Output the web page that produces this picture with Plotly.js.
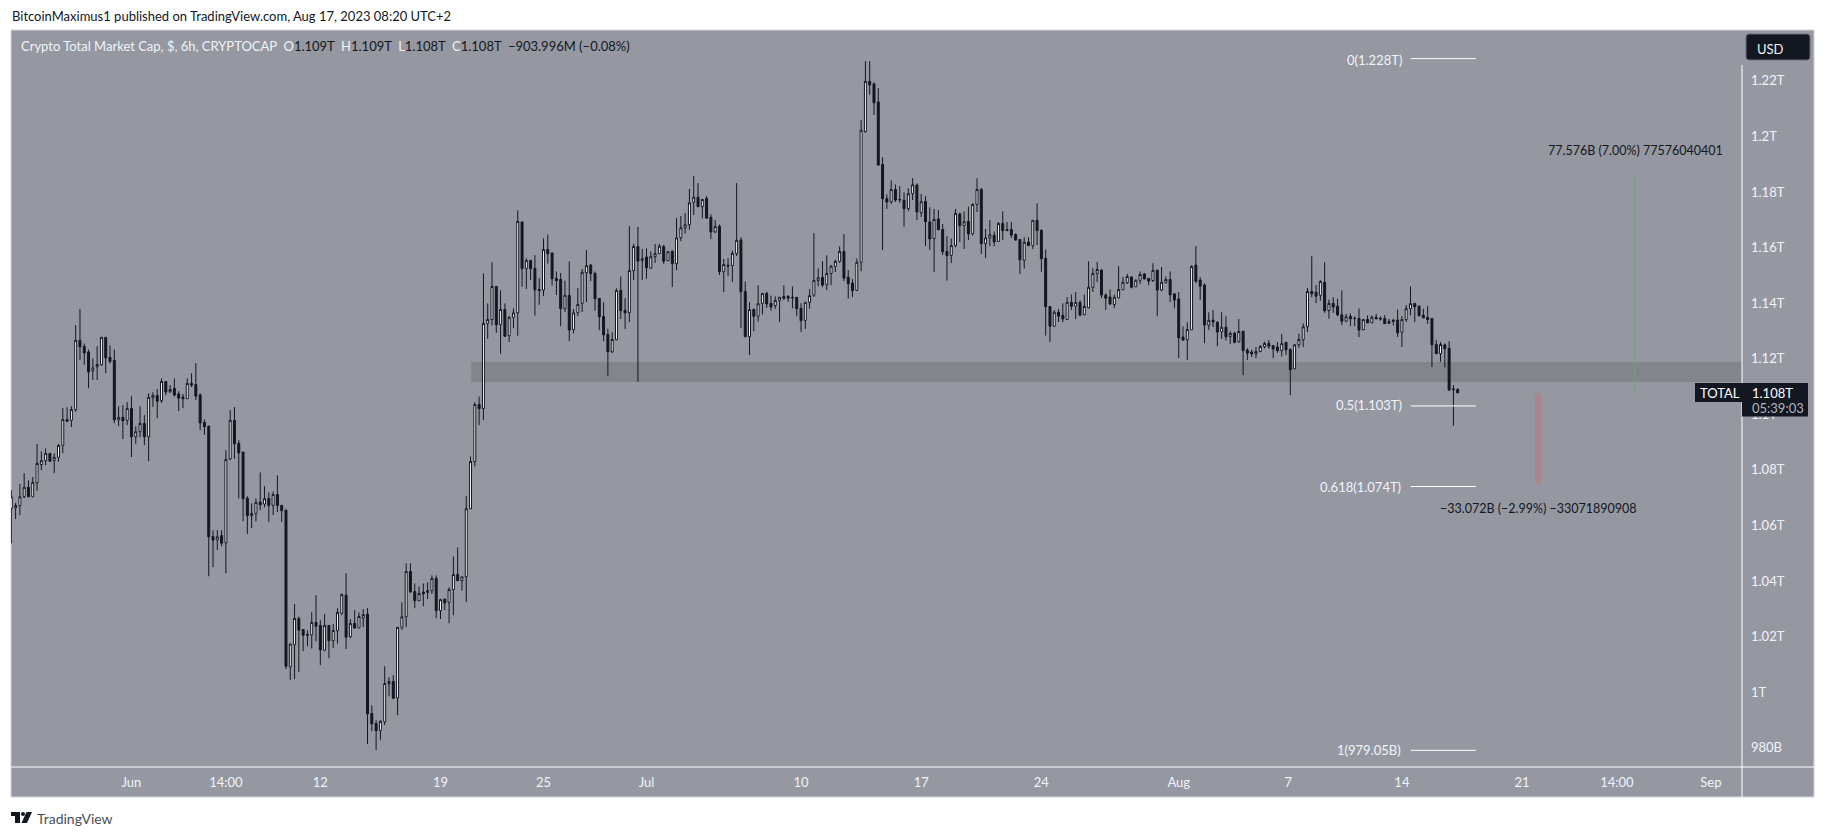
<!DOCTYPE html>
<html><head><meta charset="utf-8">
<script src="https://cdn.plot.ly/plotly-3.0.1.min.js"></script>
<style>html,body{margin:0;padding:0;background:#fff}#c{width:1825px;height:837px}</style>
</head><body><div id="c"></div>
<script>
// Values are in billions of USD, one candle every 6 hours, first candle 2023-05-25 00:00.
const firstCandle = Date.UTC(2023,4,25);
const opens = [
1066.1,1066.3,1067.1,1070.3,1073.7,1070.3,1075.3,1081.9,1083.3,1085.9,
1083.3,1084.5,1088.8,1098.1,1097.8,1101.7,1126.6,1124.4,1122.4,1115.7,
1117.1,1117.8,1127.7,1120.5,1119.4,1098.0,1098.9,1097.8,1102.1,1091.9,
1093.7,1096.7,1091.9,1105.9,1106.8,1104.9,1111.8,1108.1,1109.3,1107.3,
1106.2,1105.6,1111.1,1110.7,1106.9,1097.1,1095.7,1056.0,1054.8,1056.4,
1053.7,1083.9,1097.8,1089.5,1086.4,1069.8,1063.5,1064.3,1068.4,1067.7,
1069.7,1067.2,1071.1,1067.2,1065.5,1009.1,1017.0,1026.5,1022.5,1020.7,
1020.6,1025.1,1024.0,1015.1,1024.0,1018.5,1022.1,1028.4,1034.9,1019.9,
1024.7,1023.1,1026.7,1028.1,992.3,988.7,986.2,989.3,1003.0,1003.8,
997.9,1023.3,1027.1,1043.4,1036.2,1032.9,1036.0,1035.9,1036.5,1040.9,
1029.3,1033.5,1032.3,1036.9,1042.3,1040.1,1041.5,1066.0,1083.0,1103.5,
1102.1,1132.7,1134.1,1146.0,1132.3,1137.7,1128.3,1134.9,1136.5,1169.2,
1152.4,1155.4,1152.5,1144.9,1144.7,1159.3,1158.0,1148.9,1148.5,1138.0,
1142.8,1130.5,1136.5,1139.9,1150.9,1153.7,1150.7,1141.7,1135.2,1128.7,
1122.5,1126.8,1144.6,1137.4,1136.5,1151.7,1160.4,1155.3,1156.6,1152.6,
1156.7,1157.8,1160.4,1155.3,1158.6,1154.2,1163.5,1167.1,1168.2,1176.3,
1178.1,1174.7,1177.7,1170.9,1165.6,1167.7,1151.3,1153.6,1153.5,1157.8,
1162.7,1144.2,1127.9,1137.7,1135.3,1139.9,1143.5,1139.9,1139.1,1141.0,
1142.4,1142.4,1142.1,1142.1,1138.1,1133.8,1140.3,1142.9,1148.1,1149.3,
1146.6,1150.7,1153.2,1155.0,1158.6,1149.3,1147.2,1144.6,1154.7,1201.7,
1219.8,1218.9,1212.4,1189.9,1177.6,1176.4,1180.9,1177.3,1177.0,1174.0,
1179.4,1182.5,1172.5,1176.6,1169.2,1163.2,1170.3,1166.5,1158.6,1157.2,
1160.7,1172.1,1167.9,1169.4,1165.0,1175.5,1180.9,1161.4,1163.5,1164.4,
1162.2,1168.7,1166.5,1166.5,1164.7,1162.9,1155.4,1162.0,1160.7,1169.8,
1166.2,1156.1,1138.8,1131.7,1136.7,1135.6,1134.1,1140.3,1138.9,1140.3,
1135.8,1138.3,1145.7,1150.7,1151.9,1142.9,1142.2,1139.5,1141.9,1144.8,
1147.3,1149.4,1145.9,1148.2,1150.5,1148.9,1148.1,1151.9,1144.7,1147.3,
1148.5,1143.3,1141.5,1127.8,1126.8,1130.4,1153.7,1148.3,1146.5,1132.1,
1133.9,1133.1,1129.7,1131.3,1127.9,1129.2,1126.1,1129.9,1123.0,1122.4,
1121.7,1122.6,1124.3,1125.5,1124.7,1124.2,1122.9,1125.9,1123.3,1116.4,
1125.0,1126.8,1131.5,1144.2,1143.9,1142.8,1147.5,1137.3,1139.9,1138.9,
1135.8,1133.5,1135.2,1134.6,1134.5,1130.4,1134.1,1132.9,1134.9,1134.5,
1134.5,1132.7,1133.8,1133.9,1129.5,1134.1,1138.0,1139.9,1138.9,1135.6,
1134.9,1134.5,1125.1,1121.8,1125.0,1123.7,1108.8,1108.9];
const highs = [
1072.7,1068.1,1074.9,1078.8,1076.2,1077.4,1089.3,1086.7,1087.7,1086.1,
1085.9,1089.3,1102.2,1102.5,1102.9,1132.1,1137.9,1125.5,1123.3,1120.1,
1124.5,1127.7,1127.7,1124.8,1123.3,1102.9,1103.3,1104.4,1106.5,1095.7,
1102.9,1099.7,1107.5,1107.9,1109.1,1112.9,1111.9,1110.5,1112.9,1108.3,
1107.3,1112.9,1114.8,1118.4,1107.6,1098.1,1095.9,1058.3,1058.3,1058.3,
1087.1,1101.5,1102.6,1090.7,1086.4,1070.5,1067.9,1069.7,1079.1,1074.1,
1071.9,1072.2,1078.0,1067.4,1065.7,1017.5,1031.7,1027.2,1022.7,1022.2,
1028.8,1034.9,1025.9,1028.1,1024.1,1024.5,1030.2,1035.5,1042.8,1026.3,
1029.5,1028.7,1029.9,1030.2,995.2,989.9,989.9,1009.3,1005.3,1006.1,
1023.5,1032.3,1046.4,1046.4,1039.1,1038.1,1039.1,1039.5,1042.0,1042.0,
1033.6,1033.5,1037.7,1048.8,1052.1,1041.5,1070.5,1084.8,1104.3,1106.4,
1150.7,1139.9,1154.7,1146.1,1144.6,1139.9,1135.3,1138.1,1173.4,1169.4,
1156.1,1155.5,1157.3,1149.0,1163.3,1164.7,1158.3,1151.4,1150.8,1148.1,
1155.0,1137.9,1145.4,1152.3,1159.1,1154.1,1151.4,1141.8,1140.3,1130.8,
1129.5,1145.3,1149.6,1141.8,1167.7,1161.3,1167.4,1159.5,1159.7,1158.6,
1161.3,1161.3,1160.9,1158.7,1159.1,1170.6,1171.3,1172.4,1181.1,1185.7,
1183.2,1177.5,1178.5,1171.9,1169.9,1168.3,1155.9,1156.2,1158.9,1183.2,
1163.7,1147.8,1140.3,1138.1,1146.4,1143.5,1144.1,1142.7,1142.4,1142.2,
1146.5,1142.9,1146.0,1142.2,1140.0,1140.3,1145.1,1165.2,1152.5,1155.1,
1157.2,1153.7,1155.7,1160.4,1164.9,1151.9,1148.7,1156.1,1205.9,1227.1,
1227.1,1219.5,1217.4,1192.5,1179.1,1184.2,1182.7,1182.1,1179.9,1181.3,
1185.0,1183.1,1179.3,1178.5,1174.5,1173.9,1173.5,1168.5,1164.1,1163.2,
1173.9,1172.5,1173.0,1174.7,1176.0,1184.9,1181.5,1166.7,1169.9,1165.8,
1169.1,1173.0,1169.2,1169.2,1165.1,1162.9,1163.7,1163.7,1169.8,1175.9,
1166.5,1159.3,1138.9,1137.5,1137.9,1139.9,1142.2,1143.1,1144.0,1141.0,
1143.1,1155.0,1152.6,1154.8,1152.1,1143.5,1144.9,1143.1,1153.3,1149.4,
1150.5,1149.7,1148.5,1151.4,1150.8,1149.0,1154.4,1151.9,1153.0,1149.6,
1151.4,1143.7,1144.0,1131.6,1133.1,1153.6,1160.5,1149.3,1147.1,1136.7,
1137.5,1133.5,1136.7,1135.3,1129.9,1129.7,1134.3,1129.9,1123.8,1123.3,
1124.2,1124.9,1126.1,1126.7,1124.8,1126.0,1128.9,1126.0,1123.7,1125.3,
1129.0,1132.7,1145.5,1156.9,1146.5,1148.2,1154.7,1141.3,1142.1,1141.6,
1144.6,1136.1,1136.3,1135.2,1138.1,1134.3,1135.6,1135.6,1136.1,1135.3,
1135.7,1134.3,1134.4,1137.7,1135.3,1139.3,1146.0,1140.0,1139.2,1138.0,
1138.9,1134.6,1126.7,1126.0,1125.5,1126.3,1110.5,1109.4];
const lows = [
1053.5,1062.3,1063.7,1069.8,1070.3,1070.3,1072.5,1079.9,1081.7,1082.8,
1078.8,1082.9,1086.0,1097.2,1095.4,1100.9,1119.5,1117.8,1109.4,1112.3,
1112.3,1117.5,1114.8,1118.3,1096.8,1095.7,1091.1,1096.1,1084.6,1089.3,
1091.7,1088.9,1083.1,1102.6,1098.6,1104.1,1106.9,1107.7,1106.4,1101.1,
1102.2,1105.6,1109.8,1105.1,1094.3,1092.6,1041.7,1045.0,1051.1,1052.5,
1042.8,1083.5,1084.0,1069.7,1061.5,1056.9,1059.0,1061.5,1065.5,1066.5,
1061.2,1063.7,1064.8,1061.2,1008.3,1004.3,1004.7,1007.2,1014.7,1016.5,
1015.7,1018.3,1009.7,1014.7,1012.2,1015.8,1017.5,1027.7,1015.5,1019.4,
1022.9,1023.1,1023.4,981.3,985.9,979.1,982.7,988.1,998.5,997.5,
991.7,1022.4,1023.4,1035.6,1030.2,1032.7,1030.9,1033.5,1035.3,1026.6,
1026.3,1029.5,1024.8,1027.7,1040.1,1036.5,1032.4,1066.0,1081.3,1096.1,
1097.9,1127.2,1131.9,1129.3,1121.8,1127.8,1126.1,1131.0,1128.3,1145.9,
1145.1,1148.3,1135.5,1139.4,1142.5,1154.2,1146.3,1142.9,1131.7,1136.8,
1126.3,1129.1,1135.3,1136.8,1140.4,1147.9,1137.3,1130.3,1126.3,1113.7,
1122.0,1126.7,1134.3,1130.7,1133.2,1148.3,1111.7,1148.3,1148.7,1152.3,
1154.5,1157.7,1154.1,1155.1,1145.8,1151.9,1162.3,1165.0,1166.4,1171.7,
1174.7,1170.5,1170.3,1163.1,1165.2,1150.1,1144.0,1149.7,1147.6,1156.9,
1131.0,1127.9,1121.3,1129.9,1133.3,1135.9,1138.3,1137.3,1137.9,1133.2,
1141.1,1140.5,1138.2,1135.3,1129.6,1130.7,1138.0,1142.2,1146.1,1145.7,
1144.7,1146.5,1151.2,1154.5,1147.9,1141.6,1142.2,1144.5,1151.5,1201.3,
1215.0,1207.7,1189.5,1159.1,1173.9,1175.7,1176.4,1176.1,1167.5,1173.1,
1177.1,1169.9,1171.0,1160.5,1159.1,1151.2,1166.3,1157.3,1148.1,1154.4,
1160.1,1162.0,1159.5,1162.7,1164.3,1172.8,1157.7,1156.2,1160.5,1160.5,
1162.0,1162.7,1166.1,1163.5,1162.5,1150.5,1152.4,1160.7,1159.5,1160.9,
1151.3,1128.3,1126.0,1131.4,1133.2,1133.2,1133.9,1137.5,1134.3,1135.3,
1135.7,1138.2,1144.0,1147.6,1141.8,1137.5,1139.3,1138.2,1141.8,1144.7,
1146.9,1145.3,1145.8,1146.9,1148.5,1146.5,1147.6,1135.3,1144.3,1147.2,
1140.4,1138.2,1120.2,1126.6,1119.5,1130.4,1147.2,1141.1,1125.6,1130.3,
1131.4,1124.5,1127.1,1126.6,1125.3,1125.5,1125.7,1114.1,1119.5,1120.6,
1120.2,1122.3,1123.7,1123.6,1120.2,1122.1,1120.8,1121.3,1106.9,1116.3,
1123.9,1124.2,1129.6,1142.1,1140.0,1140.9,1136.5,1134.4,1136.5,1135.3,
1132.1,1133.1,1131.7,1131.7,1127.8,1130.3,1132.8,1132.9,1134.1,1133.7,
1132.5,1132.5,1131.9,1127.8,1124.2,1133.2,1135.6,1133.2,1135.2,1134.6,
1132.5,1117.0,1121.7,1118.9,1116.9,1108.5,1095.9,1107.7];
const closes = [
1070.3,1067.2,1070.3,1073.7,1070.3,1075.5,1082.3,1083.3,1085.9,1083.1,
1084.5,1088.8,1098.1,1097.5,1101.7,1126.6,1124.3,1122.1,1115.2,1116.7,
1117.9,1127.7,1120.3,1119.0,1098.0,1098.9,1097.7,1102.1,1091.9,1093.7,
1096.7,1091.9,1106.1,1106.8,1104.7,1111.8,1108.0,1108.9,1106.9,1105.8,
1105.6,1111.1,1110.5,1106.5,1096.9,1095.5,1055.9,1054.7,1055.9,1053.6,
1083.7,1097.8,1089.4,1086.1,1069.6,1063.5,1064.3,1068.3,1067.4,1069.6,
1067.2,1071.1,1067.2,1065.3,1009.3,1017.3,1026.5,1022.3,1020.5,1020.5,
1025.1,1023.7,1015.2,1024.0,1018.5,1022.2,1028.7,1035.1,1019.8,1024.7,
1023.1,1027.2,1027.9,992.2,988.6,986.1,989.5,1003.1,1003.8,997.8,
1023.3,1027.1,1043.4,1036.1,1032.9,1035.5,1035.4,1036.5,1040.9,1029.3,
1033.3,1032.1,1036.9,1042.3,1040.1,1041.5,1066.0,1083.0,1103.5,1102.0,
1132.7,1134.1,1146.0,1132.2,1137.7,1128.1,1134.9,1136.5,1169.4,1152.4,
1155.4,1152.4,1144.8,1144.5,1159.3,1157.8,1148.8,1148.1,1138.0,1142.8,
1130.3,1136.5,1139.5,1151.1,1153.5,1150.6,1141.6,1135.1,1128.6,1122.5,
1126.9,1144.6,1137.3,1136.5,1151.7,1160.4,1155.1,1156.0,1152.7,1156.7,
1157.8,1160.5,1155.1,1158.5,1154.2,1163.5,1167.1,1168.2,1176.1,1178.1,
1174.7,1177.3,1170.6,1165.6,1167.6,1151.3,1153.9,1153.3,1157.9,1162.6,
1144.1,1127.9,1137.7,1135.3,1139.8,1143.5,1139.7,1138.6,1141.0,1142.1,
1141.8,1141.8,1141.9,1138.0,1133.7,1140.3,1142.7,1148.2,1149.1,1146.5,
1150.7,1153.3,1155.0,1158.6,1149.0,1147.0,1144.5,1154.7,1202.2,1219.8,
1218.5,1212.1,1189.7,1177.6,1176.4,1180.9,1177.1,1177.2,1174.0,1179.4,
1182.6,1172.8,1176.5,1169.3,1163.1,1170.1,1166.4,1158.5,1157.1,1160.7,
1172.3,1167.9,1169.3,1164.9,1175.5,1180.9,1161.4,1163.5,1164.6,1162.0,
1168.7,1166.1,1166.1,1164.5,1162.7,1155.6,1161.9,1160.7,1169.8,1166.1,
1156.0,1138.7,1131.7,1136.7,1135.3,1134.3,1140.3,1138.9,1140.3,1135.7,
1138.8,1145.7,1150.7,1152.1,1142.9,1141.8,1139.7,1142.1,1144.9,1147.5,
1149.6,1145.7,1148.2,1150.3,1148.7,1147.9,1151.8,1144.7,1147.5,1148.5,
1143.0,1141.1,1127.5,1126.7,1130.5,1153.2,1147.9,1146.1,1132.1,1133.8,
1133.2,1129.6,1131.3,1127.9,1129.1,1125.9,1129.8,1122.9,1122.0,1121.7,
1122.6,1124.4,1125.5,1124.5,1123.5,1122.9,1125.5,1123.2,1116.0,1125.0,
1126.9,1131.5,1144.2,1143.4,1142.5,1147.8,1137.3,1139.9,1138.6,1135.8,
1133.5,1135.1,1134.4,1134.5,1130.3,1134.1,1132.9,1134.9,1134.4,1134.3,
1132.6,1133.4,1133.5,1129.3,1134.1,1138.0,1139.8,1138.7,1135.5,1134.7,
1134.1,1125.0,1121.8,1125.1,1123.6,1108.7,1109.1,1107.7];

const priceTicks = [980,1000,1020,1040,1060,1080,1100,1120,1140,1160,1180,1200,1220];
const priceLabels = ['980B','1T','1.02T','1.04T','1.06T','1.08T','1.1T','1.12T','1.14T','1.16T','1.18T','1.2T','1.22T'];
const dateTicks = ['2023-06-01','2023-06-06 12:00','2023-06-12','2023-06-19','2023-06-25','2023-07-01','2023-07-10','2023-07-17','2023-07-24','2023-08-01','2023-08-07 09:00','2023-08-14','2023-08-21','2023-08-26 12:30','2023-09-01'];
const dateLabels = ['Jun','14:00','12','19','25','Jul','10','17','24','Aug','7','14','21','14:00','Sep'];
const fibLevels = [1228,1103,1074,979.05];
const fibLabels = ['0(1.228T)','0.5(1.103T)','0.618(1.074T)','1(979.05B)'];
const fibStart = '2023-08-14 12:30', fibEnd = '2023-08-18 07:20';
const zoneTop = 1118.8, zoneBottom = 1111.6, zoneStart = '2023-06-20 19:00';
const upMoveFrom = 1108, upMoveTo = 1185.6, upMoveDate = '2023-08-27 13:30';
const downMoveFrom = 1107.6, downMoveTo = 1075, downMoveStart = '2023-08-21 18:00', downMoveEnd = '2023-08-22 02:24';

const xRange = ['2023-05-24 23:35','2023-09-02 19:26'];
const yRange = [973.05,1238.3];

const L=11,R=1742,T=30,B=767;
const px=x=>(x-L)/(R-L), py=y=>(B-y)/(B-T);
const DARK='#131722', PANEL='#9598a1', LIGHT='#f0f3fa';
const FONT='Lato, "Noto Sans", sans-serif';

const dates = opens.map((_,i)=>new Date(firstCandle+i*6*3600e3).toISOString().slice(0,19));

const trace = {type:'candlestick',x:dates,open:opens,high:highs,low:lows,close:closes,
  increasing:{line:{color:DARK,width:1},fillcolor:'#ffffff'},
  decreasing:{line:{color:DARK,width:1},fillcolor:DARK},
  whiskerwidth:0,hoverinfo:'skip',showlegend:false};

const rectP=(x0,y0,x1,y1,fill,layer,line)=>({type:'rect',xref:'paper',yref:'paper',x0:px(x0),x1:px(x1),y0:py(y0),y1:py(y1),fillcolor:fill,layer:layer||'above',line:line||{width:0}});
const lineP=(x0,y0,x1,y1,c)=>({type:'line',xref:'paper',yref:'paper',x0:px(x0),x1:px(x1),y0:py(y0),y1:py(y1),layer:'above',line:{color:c,width:1}});
const pathP=(pts,fill)=>({type:'path',xref:'paper',yref:'paper',layer:'above',fillcolor:fill,line:{width:0},
  path:pts.map((p,i)=>(i?'L':'M')+px(p[0])+','+py(p[1])).join(' ')+' Z'});
const roundP=(x0,y0,x1,y1,r,fill,line)=>({type:'path',xref:'paper',yref:'paper',layer:'above',fillcolor:fill,line,
  path:`M${px(x0+r)},${py(y0)} L${px(x1-r)},${py(y0)} Q${px(x1)},${py(y0)} ${px(x1)},${py(y0+r)} L${px(x1)},${py(y1-r)} Q${px(x1)},${py(y1)} ${px(x1-r)},${py(y1)} L${px(x0+r)},${py(y1)} Q${px(x0)},${py(y1)} ${px(x0)},${py(y1-r)} L${px(x0)},${py(y0+r)} Q${px(x0)},${py(y0)} ${px(x0+r)},${py(y0)} Z`});

const shapes=[
  rectP(11,30,1814,797,PANEL,'below',{color:'#d1d4dc',width:1}),
  {type:'rect',xref:'x',yref:'y',x0:zoneStart,x1:xRange[1],y0:zoneBottom,y1:zoneTop,fillcolor:'#83858d',line:{width:0},layer:'below'},
  ...fibLevels.map(v=>({type:'line',xref:'x',yref:'y',x0:fibStart,x1:fibEnd,y0:v,y1:v,line:{color:'#ffffff',width:1},layer:'above'})),
  {type:'line',xref:'x',yref:'y',x0:upMoveDate,x1:upMoveDate,y0:upMoveFrom,y1:upMoveTo,line:{color:'#78a07d',width:1},layer:'above'},
  {type:'rect',xref:'x',yref:'y',x0:downMoveStart,x1:downMoveEnd,y0:downMoveTo,y1:downMoveFrom,fillcolor:'#a9858d',line:{width:0},layer:'above'},
  lineP(1742,65,1742,797,'#ffffff'),
  lineP(11,767,1814,767,'#ffffff'),
  rectP(1695,383,1742,402,DARK),
  rectP(1742,383,1808,416.5,DARK),
  roundP(1746,34,1810,60,3,DARK,{color:'#6a6d78',width:1}),
  pathP([[11,812],[20,812],[20,823],[15,823],[15,816],[11,816]],DARK),
  pathP([[32,812],[27,823],[21.5,823],[26.5,812]],DARK),
  {type:'circle',xref:'paper',yref:'paper',x0:px(21),x1:px(25),y0:py(816),y1:py(812),fillcolor:DARK,line:{width:0},layer:'above'}
];

const ann=(text,x,y,anchor,size,color,extra)=>Object.assign({text,xref:'paper',yref:'paper',x:px(x),y:py(y),xanchor:anchor,yanchor:'middle',showarrow:false,borderpad:0,font:{family:FONT,size,color}},extra||{});
const w=s=>`<span style="color:${LIGHT}">${s}</span>`, d=s=>`<span style="color:${DARK}">${s}</span>`;

const annotations=[
  ann('BitcoinMaximus1 published on TradingView.com, Aug 17, 2023 08:20 UTC+2',11,16,'left',13,DARK),
  ann(w('Crypto Total Market Cap, $, 6h, CRYPTOCAP')+'  '+w('O')+d('1.109T')+'  '+w('H')+d('1.109T')+'  '+w('L')+d('1.108T')+'  '+w('C')+d('1.108T')+'  '+d('−903.996M (−0.08%)'),20,46,'left',13,DARK),
  ...fibLabels.map((t,i)=>ann(t,[1403,1403,1401.5,1401.5][i],[59.7,404.5,486.5,749.5][i],'right',13,LIGHT)),
  ann('77.576B (7.00%) 77576040401',1635,150.7,'center',12.5,DARK),
  ann('−33.072B (−2.99%) −33071890908',1538,508.7,'center',12.5,DARK),
  ann('TOTAL',1699,392.5,'left',13,'#ffffff'),
  ann('1.108T',1751,392.5,'left',13,'#ffffff'),
  ann('05:39:03',1751,408,'left',13,'#b2b5be'),
  ann('USD',1756,48.5,'left',13,LIGHT),
  ann('TradingView',36,818,'left',14,'#4a4e57')
];

const layout={width:1825,height:837,margin:{l:L,r:1825-R,t:T,b:837-B,pad:0},
  paper_bgcolor:'#ffffff',plot_bgcolor:'rgba(0,0,0,0)',boxgap:0.35,showlegend:false,dragmode:false,
  xaxis:{type:'date',range:xRange,rangeslider:{visible:false},tickmode:'array',tickvals:dateTicks,ticktext:dateLabels,
    showgrid:false,zeroline:false,showline:false,ticklen:0,ticklabelstandoff:6,tickfont:{family:FONT,size:13,color:LIGHT}},
  yaxis:{side:'right',range:yRange,tickmode:'array',tickvals:priceTicks,ticktext:priceLabels,
    showgrid:false,zeroline:false,showline:false,ticklen:0,ticklabelstandoff:8,tickfont:{family:FONT,size:13,color:LIGHT}},
  shapes,annotations};
Plotly.newPlot('c',[trace],layout,{displayModeBar:false,staticPlot:true});
</script></body></html>
